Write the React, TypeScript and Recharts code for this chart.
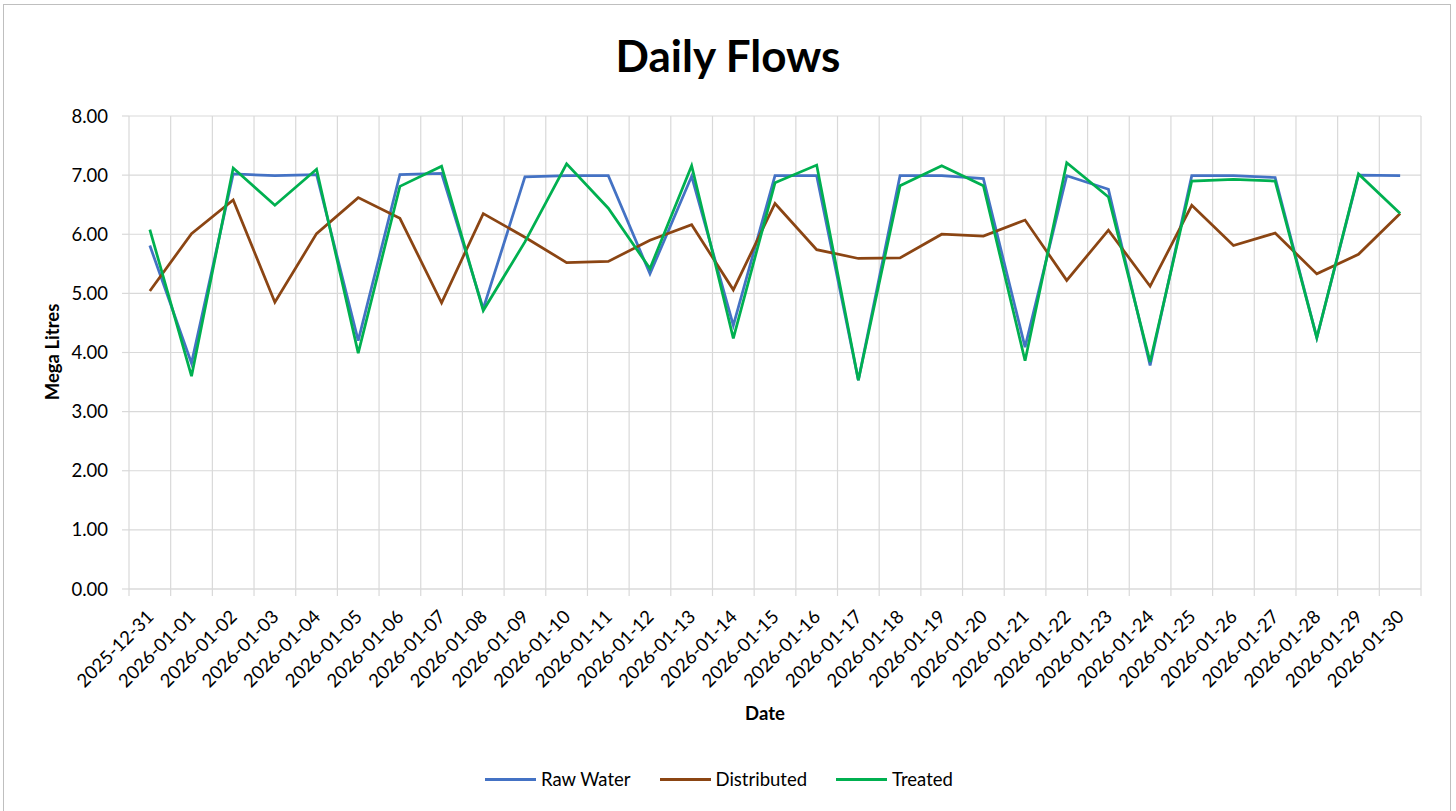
import { LineChart, Line, XAxis, YAxis, CartesianGrid } from "recharts";

const dates = [
  "2025-12-31", "2026-01-01", "2026-01-02", "2026-01-03", "2026-01-04", "2026-01-05",
  "2026-01-06", "2026-01-07", "2026-01-08", "2026-01-09", "2026-01-10", "2026-01-11",
  "2026-01-12", "2026-01-13", "2026-01-14", "2026-01-15", "2026-01-16", "2026-01-17",
  "2026-01-18", "2026-01-19", "2026-01-20", "2026-01-21", "2026-01-22", "2026-01-23",
  "2026-01-24", "2026-01-25", "2026-01-26", "2026-01-27", "2026-01-28", "2026-01-29",
  "2026-01-30",
];

const rawWater = [
  5.81, 3.82, 7.02, 6.99, 7.01, 4.2, 7.01, 7.03, 4.74, 6.97, 6.99, 6.99, 5.33, 6.98, 4.46, 6.99,
  6.99, 3.53, 6.99, 6.99, 6.94, 4.09, 6.99, 6.76, 3.78, 6.99, 6.99, 6.96, 4.25, 7.0, 6.99,
];

const distributed = [
  5.04, 6.01, 6.58, 4.85, 6.01, 6.62, 6.27, 4.84, 6.35, 5.95, 5.52, 5.54, 5.9, 6.16, 5.06, 6.52,
  5.74, 5.59, 5.6, 6.0, 5.97, 6.24, 5.22, 6.07, 5.12, 6.49, 5.81, 6.02, 5.33, 5.66, 6.35,
];

const treated = [
  6.08, 3.6, 7.12, 6.49, 7.1, 3.99, 6.81, 7.15, 4.71, 5.87, 7.19, 6.44, 5.42, 7.16, 4.24, 6.87,
  7.17, 3.53, 6.82, 7.16, 6.82, 3.86, 7.21, 6.63, 3.84, 6.9, 6.93, 6.9, 4.25, 7.02, 6.35,
];

const yTicks = [0, 1, 2, 3, 4, 5, 6, 7, 8];

const series = [
  { key: "raw", name: "Raw Water", color: "#4472C4" },
  { key: "dist", name: "Distributed", color: "#8B4513" },
  { key: "treated", name: "Treated", color: "#00B050" },
];

// each day sits in the middle of its slot, gridlines fall on slot edges (Excel style)
const data = dates.map((d, i) => ({
  date: d,
  pos: i + 0.5,
  raw: rawWater[i],
  dist: distributed[i],
  treated: treated[i],
}));

const boundaries = dates.map((_, i) => i).concat(dates.length);

const CHART_W = 1456;
const MARGIN = { top: 116, right: 35, left: 0, bottom: 122 };
const Y_AXIS_W = 129;
const SLOT = (CHART_W - MARGIN.left - MARGIN.right - Y_AXIS_W) / dates.length;

const FONT = "Lato, 'Open Sans', sans-serif";
const GRID = "#d9d9d9";

function DateTick(props: any) {
  const { x, y, payload } = props;
  const label = dates[payload.value];
  if (!label) return null;
  const tx = x + SLOT / 2 + 5;
  const ty = y + 22;
  return (
    <text
      x={tx}
      y={ty}
      textAnchor="end"
      fontFamily={FONT}
      fontSize={18.5}
      fill="#000"
      transform={`rotate(-45, ${tx}, ${ty})`}
    >
      {label}
    </text>
  );
}

export default function App() {
  return (
    <div
      style={{
        position: "absolute",
        left: 0,
        top: 0,
        width: 1456,
        height: 811,
        overflow: "hidden",
        background: "#fff",
        fontFamily: FONT,
      }}
    >
      <div
        style={{
          position: "absolute",
          left: 3,
          top: 4,
          width: 1446,
          height: 820,
          border: "1px solid #bfbfbf",
        }}
      />
      <div
        style={{
          position: "absolute",
          left: 0,
          width: 1456,
          top: 29,
          textAlign: "center",
          fontSize: 44,
          fontWeight: 700,
          color: "#000",
          lineHeight: "52px",
        }}
      >
        Daily Flows
      </div>
      <div
        style={{
          position: "absolute",
          left: 52,
          top: 352,
          transform: "translate(-50%, -50%) rotate(-90deg)",
          fontSize: 18.5,
          fontWeight: 700,
          whiteSpace: "nowrap",
          lineHeight: "20px",
        }}
      >
        Mega Litres
      </div>
      <div
        style={{
          position: "absolute",
          left: 765,
          top: 713,
          transform: "translate(-50%, -50%)",
          fontSize: 18.5,
          fontWeight: 700,
          lineHeight: "20px",
        }}
      >
        Date
      </div>
      <div
        style={{
          position: "absolute",
          left: 485,
          top: 767,
          display: "flex",
          alignItems: "center",
          gap: 29,
          fontSize: 18.5,
          lineHeight: "24px",
        }}
      >
        {series.map((s) => (
          <div key={s.key} style={{ display: "flex", alignItems: "center" }}>
            <span
              style={{ display: "inline-block", width: 51, height: 3, background: s.color, marginRight: 5 }}
            />
            <span>{s.name}</span>
          </div>
        ))}
      </div>
      <div style={{ position: "absolute", left: 0, top: 0 }}>
        <LineChart width={CHART_W} height={811} data={data} margin={MARGIN}>
          <CartesianGrid stroke={GRID} strokeWidth={1.2} />
          <XAxis
            dataKey="pos"
            type="number"
            domain={[0, dates.length]}
            ticks={boundaries}
            interval={0}
            allowDataOverflow
            height={100}
            tickSize={7}
            tickMargin={0}
            tickLine={{ stroke: GRID, strokeWidth: 1.2 }}
            axisLine={{ stroke: GRID, strokeWidth: 1.2 }}
            tick={<DateTick />}
          />
          <YAxis
            width={Y_AXIS_W}
            domain={[0, 8]}
            ticks={yTicks}
            interval={0}
            tickFormatter={(v: number) => v.toFixed(2)}
            tickSize={7}
            tickMargin={14}
            tickLine={{ stroke: GRID, strokeWidth: 1.2 }}
            axisLine={false}
            tick={{ fill: "#000", fontSize: 18.5, fontFamily: FONT }}
          />
          {series.map((s) => (
            <Line
              key={s.key}
              dataKey={s.key}
              name={s.name}
              stroke={s.color}
              strokeWidth={2.75}
              dot={false}
              activeDot={false}
              isAnimationActive={false}
            />
          ))}
        </LineChart>
      </div>
    </div>
  );
}
